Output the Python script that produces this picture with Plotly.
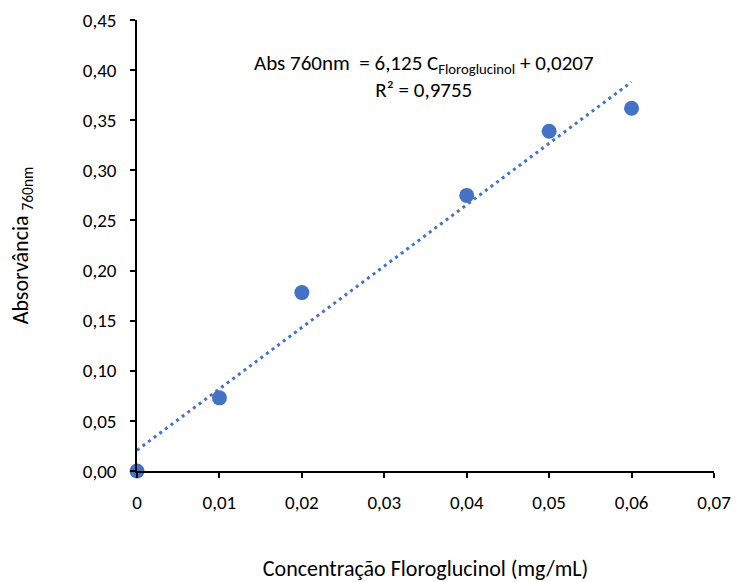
import numpy as np
import plotly.graph_objects as go

# Calibration data: floroglucinol concentration (mg/mL) vs absorbance at 760 nm
conc = [0.0, 0.01, 0.02, 0.04, 0.05, 0.06]
absorb = [0.000, 0.073, 0.178, 0.275, 0.339, 0.362]

# Linear trendline coefficients and fit quality
slope = 6.125
intercept = 0.0207
r2 = 0.9755

x_ticks = [0, 0.01, 0.02, 0.03, 0.04, 0.05, 0.06, 0.07]
x_tick_text = ["0", "0,01", "0,02", "0,03", "0,04", "0,05", "0,06", "0,07"]
y_ticks = [0, 0.05, 0.10, 0.15, 0.20, 0.25, 0.30, 0.35, 0.40, 0.45]
y_tick_text = ["0,00", "0,05", "0,10", "0,15", "0,20", "0,25", "0,30", "0,35", "0,40", "0,45"]

BLUE = "#4472C4"
FONT = "Carlito, Lato, 'Open Sans', sans-serif"

fit_x = np.linspace(min(conc), max(conc), 50)
fit_y = slope * fit_x + intercept

fig = go.Figure()
fig.add_trace(go.Scatter(
    x=fit_x, y=fit_y, mode="lines",
    line=dict(color=BLUE, width=3, dash="3px,4px"),
    hoverinfo="skip", showlegend=False,
))
fig.add_trace(go.Scatter(
    x=conc, y=absorb, mode="markers",
    marker=dict(color=BLUE, size=15),
    showlegend=False, cliponaxis=False,
))

fmt = lambda v, d: f"{v:.{d}f}".replace(".", ",")
fig.add_annotation(
    x=0.0348, y=0.394, xref="x", yref="y",
    text=(f"Abs 760nm  = {fmt(slope, 3)} C<sub>Floroglucinol</sub> + {fmt(intercept, 4)}"
          f"<br>R² = {fmt(r2, 4)}"),
    showarrow=False, align="center", yanchor="middle",
    font=dict(family=FONT, size=21, color="#000000"),
)

axis_common = dict(
    showline=True, linecolor="#000000", linewidth=1.5,
    ticks="outside", ticklen=5, tickcolor="#000000", tickwidth=1.5,
    showgrid=False, zeroline=False, automargin=False,
    tickfont=dict(family=FONT, size=19, color="#000000"),
)

fig.update_layout(
    width=737, height=582,
    margin=dict(l=137, r=23, t=20, b=111),
    paper_bgcolor="white", plot_bgcolor="white",
    separators=",.",
    xaxis=dict(
        range=[0, 0.07], tickvals=x_ticks, ticktext=x_tick_text,
        ticklabelstandoff=8,
        title=dict(text="Concentração Floroglucinol (mg/mL)", standoff=52,
                   font=dict(family=FONT, size=22, color="#000000")),
        **axis_common,
    ),
    yaxis=dict(
        range=[0, 0.45], tickvals=y_ticks, ticktext=y_tick_text,
        ticklabelstandoff=10,
        title=dict(text="Absorvância <sub>760nm</sub>", standoff=48,
                   font=dict(family=FONT, size=22, color="#000000")),
        **axis_common,
    ),
)

fig.write_html("out.html")
